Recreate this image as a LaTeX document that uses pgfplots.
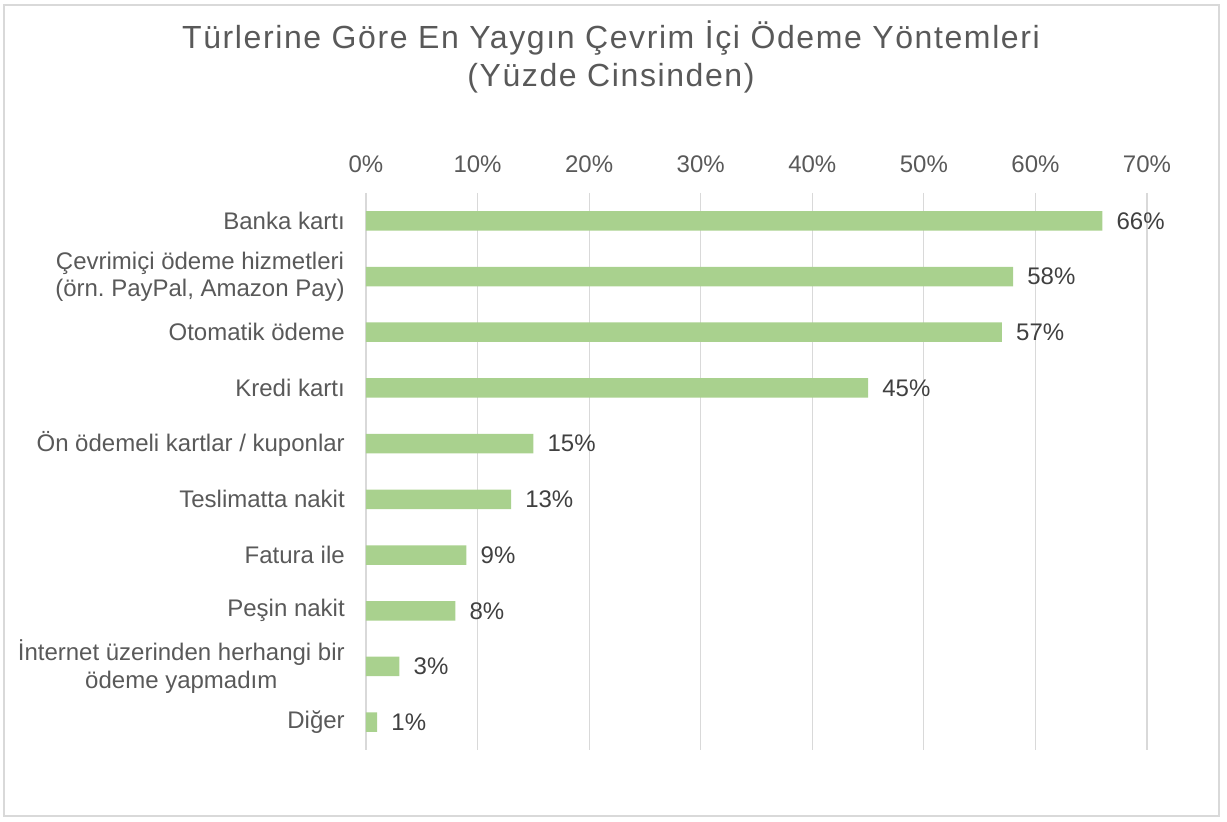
\documentclass[border=0pt]{standalone}
\usepackage{fontspec}
\setmainfont{Liberation Sans}
\newfontfamily\titlefont[LetterSpace=5]{Liberation Sans}
\usepackage{pgfplots}
\pgfplotsset{compat=1.18}
\definecolor{txt}{HTML}{595959}
\definecolor{lbl}{HTML}{404040}
\definecolor{grd}{HTML}{D9D9D9}
\definecolor{bar}{HTML}{A9D18E}
\frenchspacing
\begin{document}
\begin{tikzpicture}[x=0.75pt,y=0.75pt]
\useasboundingbox (-366,-71) rectangle (861,750);
\draw[grd, line width=0.9pt] (-362,-66) rectangle (853,745);
\begin{axis}[
  at={(0,0)}, anchor=south west,
  width=585.75pt, height=417.75pt, scale only axis,
  xbar, bar width=0.35,
  xmin=0, xmax=70, xtick={0,10,...,70},
  xticklabel={\pgfmathprintnumber{\tick}\%},
  xticklabel pos=upper,
  ymin=-0.5, ymax=9.5, y dir=reverse,
  ytick={0,...,9},
  yticklabels={Banka kartı,{Çevrimiçi ödeme hizmetleri\\(örn. PayPal, Amazon Pay)},Otomatik ödeme,Kredi kartı,Ön ödemeli kartlar / kuponlar,Teslimatta nakit,Fatura ile,Peşin nakit,{İnternet üzerinden herhangi bir\\ödeme yapmadım},Diğer},
  axis line style={draw=none},
  major tick length=0pt,
  xmajorgrids, major grid style={grd, line width=0.9pt},
  /pgf/number format/assume math mode=true,
  tick label style={font=\fontsize{18}{20.5}\selectfont, text=txt},
  xticklabel style={anchor=base, inner sep=0pt, yshift=15pt},
  yticklabel style={anchor=east, inner sep=0pt, xshift=-15.75pt, align=center},
  point meta=x,
  nodes near coords={\pgfmathprintnumber{\pgfplotspointmeta}\%},
  every node near coord/.append style={anchor=west, inner sep=0pt, xshift=10.5pt, font=\fontsize{18}{20}\selectfont, text=lbl},
  clip=false,
]
\addplot[fill=bar, draw=none] coordinates {(66,0) (58,1) (57,2) (45,3) (15,4) (13,5) (9,6) (8,7) (3,8) (1,9)};
\end{axis}
\node[anchor=base, align=center, text=txt, font=\titlefont\fontsize{24}{28.5}\selectfont] at (245,663) {Türlerine Göre En Yaygın Çevrim İçi Ödeme Yöntemleri\\(Yüzde Cinsinden)};
\end{tikzpicture}
\end{document}
